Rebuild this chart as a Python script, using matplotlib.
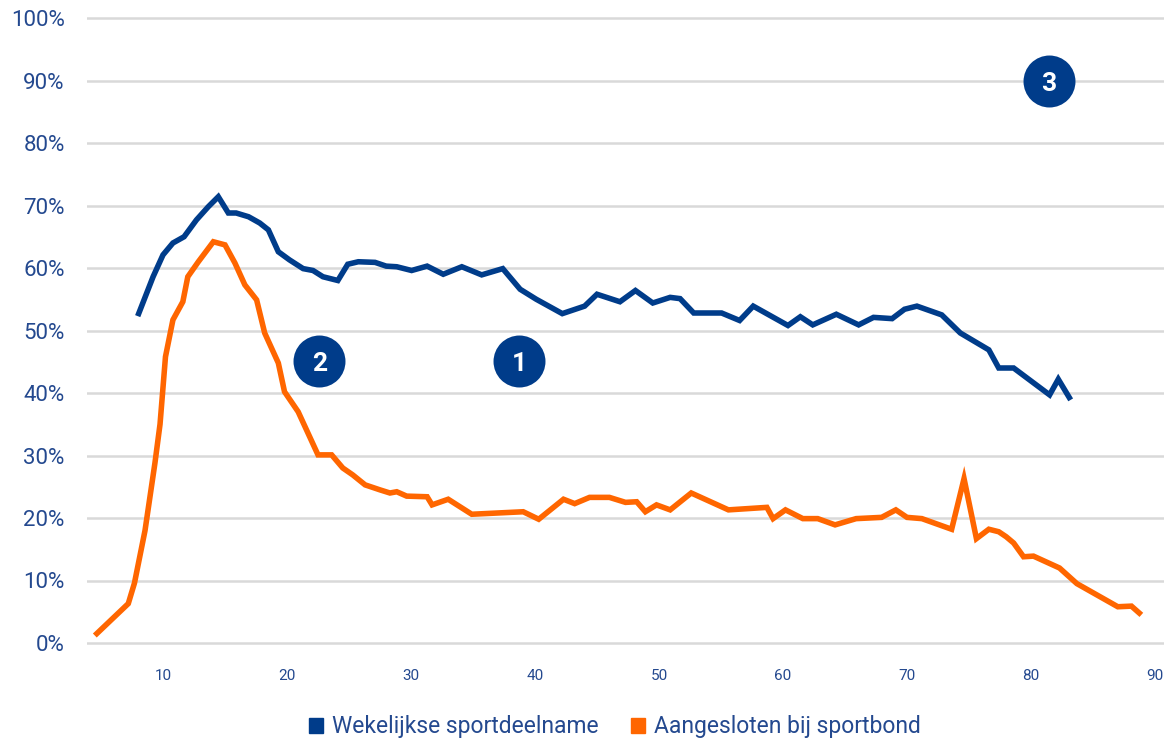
import matplotlib
matplotlib.use("Agg")
import matplotlib.pyplot as plt
from matplotlib.patches import Patch

# leeftijd (x) en percentage (y)
wekelijks_age = [7.96, 9.2, 10.0, 10.8, 11.7, 12.7, 13.65, 14.46, 15.27, 15.9, 16.9, 17.8,
                 18.5, 19.3, 20.2, 21.3, 22.1, 22.9, 24.1, 24.9, 25.75, 27.1, 28.0, 28.85,
                 30.05, 31.3, 32.6, 34.1, 35.7, 37.4, 38.8, 40.1, 42.2, 44.0, 45.0, 46.85,
                 48.1, 49.5, 50.9, 51.7, 52.8, 55.05, 56.5, 57.6, 60.4, 61.4, 62.4, 64.3,
                 66.1, 67.3, 68.8, 69.8, 70.8, 72.8, 74.3, 76.6, 77.4, 78.6, 81.5, 82.2, 83.2]
wekelijks_pct = [52.3, 58.6, 62.1, 64.0, 65.0, 67.7, 69.8, 71.4, 68.8, 68.8, 68.2, 67.2,
                 66.1, 62.6, 61.3, 59.9, 59.6, 58.6, 58.0, 60.6, 61.0, 60.9, 60.3, 60.2,
                 59.6, 60.3, 59.0, 60.2, 58.9, 59.9, 56.6, 55.0, 52.7, 53.9, 55.8, 54.6,
                 56.4, 54.4, 55.3, 55.1, 52.8, 52.8, 51.6, 53.9, 50.8, 52.2, 50.9, 52.6,
                 50.9, 52.1, 51.9, 53.4, 53.9, 52.5, 49.6, 46.9, 44.0, 44.0, 39.7, 42.2, 38.9]

bond_age = [4.5, 7.2, 7.7, 8.55, 9.35, 9.76, 10.2, 10.8, 11.6, 12.0, 12.85, 14.06, 15.0,
            15.8, 16.6, 17.55, 18.2, 19.3, 19.8, 20.9, 22.5, 23.6, 24.5, 25.3, 26.3, 27.5,
            28.3, 28.85, 29.65, 31.3, 31.7, 33.0, 34.9, 39.05, 40.3, 42.3, 43.2, 44.4, 46.0,
            47.3, 48.2, 48.9, 49.8, 50.9, 52.6, 55.6, 58.7, 59.2, 60.2, 61.6, 62.8, 64.2,
            65.9, 67.95, 69.1, 70.0, 71.2, 73.6, 74.6, 75.6, 76.6, 77.4, 78.0, 78.6, 79.4,
            80.2, 82.3, 83.7, 87.0, 88.1, 88.9]
bond_pct = [1.2, 6.3, 9.6, 18.0, 28.8, 35.0, 45.8, 51.7, 54.6, 58.6, 61.0, 64.2, 63.7,
            60.8, 57.3, 54.9, 49.6, 44.8, 40.2, 37.0, 30.1, 30.1, 28.0, 26.9, 25.3, 24.5,
            24.0, 24.2, 23.5, 23.4, 22.1, 23.0, 20.6, 21.0, 19.8, 23.0, 22.3, 23.3, 23.3,
            22.5, 22.6, 21.0, 22.1, 21.3, 24.0, 21.3, 21.7, 19.9, 21.3, 19.9, 19.9, 18.9,
            19.9, 20.1, 21.3, 20.1, 19.9, 18.2, 26.3, 16.7, 18.2, 17.8, 17.0, 16.0, 13.8,
            13.9, 12.0, 9.5, 5.8, 5.9, 4.5]

markers_label = ["1", "2", "3"]
markers_x = [38.7, 22.6, 81.45]
markers_y = [45.1, 45.1, 89.9]

x_ticks = [10, 20, 30, 40, 50, 60, 70, 80, 90]
y_ticks = [0, 10, 20, 30, 40, 50, 60, 70, 80, 90, 100]

BLUE = "#003c8a"
ORANGE = "#ff6600"
TEXT = "#24498f"
GRID = "#d9d9d9"

plt.rcParams["font.family"] = ["Roboto", "DejaVu Sans"]

W, H = 1164, 738
fig = plt.figure(figsize=(W / 100, H / 100), dpi=100)
# 0% op y=643px, 100% op y=18px; leeftijd 0 op x=39px, 12.4 px per jaar
y_lo, y_hi = -1, 101
top_px = 18 - 6.25 * (y_hi - 100)
bot_px = 643 + 6.25 * (0 - y_lo)
x_lo, x_hi = (87 - 39) / 12.4, (1164 - 39) / 12.4
ax = fig.add_axes([87 / W, 1 - bot_px / H, 1 - 87 / W, (bot_px - top_px) / H])

for y in y_ticks:
    ax.axhline(y, color=GRID, lw=1.8, zorder=1)

ax.plot(wekelijks_age, wekelijks_pct, color=BLUE, lw=4, solid_capstyle="butt",
        solid_joinstyle="miter", zorder=3)
ax.plot(bond_age, bond_pct, color=ORANGE, lw=4, solid_capstyle="butt",
        solid_joinstyle="miter", zorder=3)

ax.scatter(markers_x, markers_y, s=1400, color=BLUE, zorder=4, linewidths=0)
for lab, mx, my in zip(markers_label, markers_x, markers_y):
    ax.text(mx, my, lab, color="white", fontsize=19, fontweight="bold",
            ha="center", va="center_baseline", zorder=5)

ax.set_xlim(x_lo, x_hi)
ax.set_ylim(y_lo, y_hi)
ax.set_xticks(x_ticks)
ax.set_xticklabels([str(v) for v in x_ticks])
ax.set_yticks(y_ticks)
ax.set_yticklabels([f"{v}%" for v in y_ticks])
ax.tick_params(axis="x", length=0, pad=14, labelsize=11, labelcolor=TEXT)
ax.tick_params(axis="y", length=0, pad=16, labelsize=16, labelcolor=TEXT)
for s in ax.spines.values():
    s.set_visible(False)

handles = [Patch(color=BLUE), Patch(color=ORANGE)]
labels = ["Wekelijkse sportdeelname", "Aangesloten bij sportbond"]
fig.legend(handles, labels, loc="center", bbox_to_anchor=(615 / W, 1 - 727 / H),
           ncol=2, frameon=False, fontsize=16.5, labelcolor=TEXT,
           handlelength=0.6, handleheight=0.6, handletextpad=0.4, columnspacing=1.4)

fig.savefig("out.png", dpi=100)
